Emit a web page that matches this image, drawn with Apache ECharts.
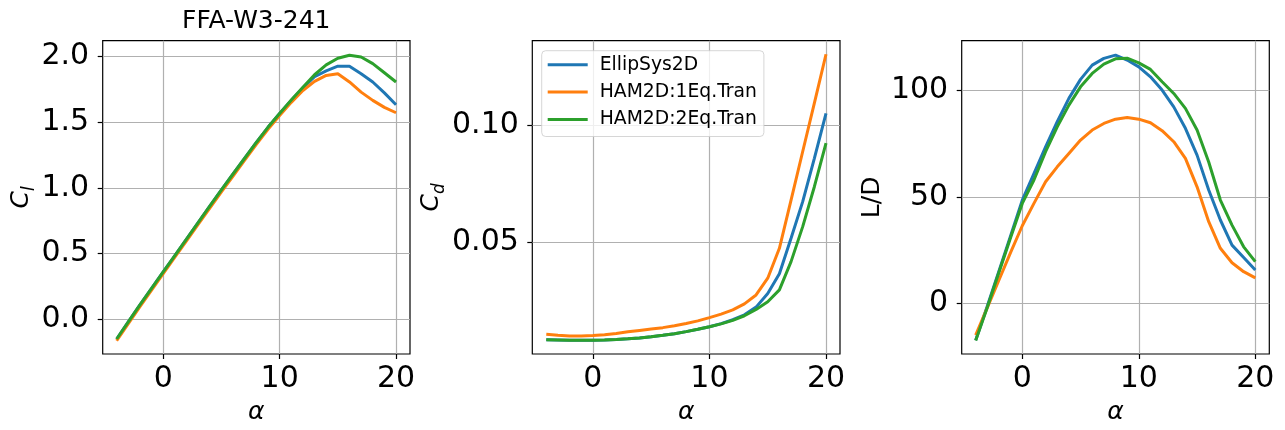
<!DOCTYPE html>
<html>
<head>
<meta charset="utf-8">
<script src="https://cdn.jsdelivr.net/npm/echarts@6/dist/echarts.min.js"></script>
<style>html,body{margin:0;padding:0;background:#fff}#c{width:1285px;height:430px}</style>
</head>
<body>
<div id="c"></div>
<script>
// ---- data ----
const alpha = [-4,-3,-2,-1,0,1,2,3,4,5,6,7,8,9,10,11,12,13,14,15,16,17,18,19,20];
const seriesNames = ['EllipSys2D','HAM2D:1Eq.Tran','HAM2D:2Eq.Tran'];
const clEllip = [-0.15,-0.02,0.11,0.235,0.36,0.485,0.61,0.735,0.86,0.985,1.105,1.225,1.345,1.46,1.565,1.665,1.76,1.845,1.89,1.925,1.925,1.868,1.805,1.722,1.632];
const clHam1  = [-0.163,-0.033,0.097,0.222,0.347,0.472,0.597,0.722,0.846,0.97,1.09,1.21,1.33,1.445,1.55,1.65,1.74,1.81,1.855,1.868,1.805,1.728,1.665,1.612,1.571];
const clHam2  = [-0.15,-0.02,0.11,0.235,0.36,0.485,0.61,0.735,0.86,0.985,1.105,1.225,1.345,1.46,1.565,1.668,1.765,1.86,1.935,1.985,2.008,1.995,1.945,1.875,1.805];
const cdEllip = [0.0082,0.0081,0.0080,0.0080,0.0080,0.0081,0.0083,0.0086,0.0090,0.0095,0.0101,0.0108,0.0117,0.0127,0.0138,0.0151,0.0168,0.0189,0.0222,0.0280,0.0365,0.0517,0.0674,0.0860,0.1053];
const cdHam1  = [0.0106,0.0101,0.0098,0.0098,0.0100,0.0104,0.0109,0.0116,0.0122,0.0128,0.0134,0.0142,0.0152,0.0163,0.0177,0.0192,0.0210,0.0236,0.0274,0.0346,0.0474,0.0681,0.0889,0.1096,0.1306];
const cdHam2  = [0.0082,0.0081,0.0080,0.0080,0.0080,0.0081,0.0083,0.0086,0.0090,0.0095,0.0101,0.0108,0.0117,0.0127,0.0138,0.0150,0.0165,0.0185,0.0212,0.0245,0.0296,0.0417,0.0567,0.0738,0.0925];
const ldEllip = [-17.3,-1.2,15.2,31.8,48.5,61,73.6,85.4,96.4,105.3,112,115.2,116.7,114.4,111.2,106.5,100.3,92.4,82.3,69.7,53.3,39.2,27.4,21.6,15.7];
const ldHam1  = [-14.9,-2.0,11,24,36.5,47,57.2,64.2,70.5,76.8,81.5,84.6,86.6,87.4,86.6,84.9,81.2,76,68.2,54.8,38.4,25.9,19.1,14.9,12];
const ldHam2  = [-17.5,-1.8,14.6,31,47,58,71.3,83,93.2,101.8,108.1,112.5,115,115.3,113.1,110,104.2,98.7,91.7,81.5,66.5,48.6,36.8,26.6,19.6];
const xTicks  = [0,10,20];
const clTicks = [0,0.5,1.0,1.5,2.0];
const cdTicks = [0.05,0.10];
const ldTicks = [0,50,100];
const titleText = 'FFA-W3-241';

// ---- chart ----
const F = 'DejaVu Sans';
const colors = ['#1f77b4','#ff7f0e','#2ca02c'];
const grids = [
  {left:102.7, top:40.7, width:307.3, height:313.3},
  {left:532.3, top:40.7, width:307.7, height:313.3},
  {left:961.7, top:40.7, width:307.6, height:313.3}
].map(g => Object.assign({show:true, borderColor:'#000', borderWidth:1.2, backgroundColor:'transparent', containLabel:false, outerBoundsMode:'none'}, g));

function xAx(gi){
  return {type:'value', gridIndex:gi, min:-5.2, max:21.2, splitNumber:3,
    axisLine:{show:false, onZero:false},
    axisTick:{show:true, customValues:xTicks, length:5, lineStyle:{color:'#000', width:1.2}},
    axisLabel:{customValues:xTicks, fontSize:30, color:'#000', fontFamily:F, margin:10},
    splitLine:{show:true, showMinLine:true, showMaxLine:true, lineStyle:{color:'#b0b0b0', width:1.2}},
    name:'α', nameLocation:'middle', nameGap:46,
    nameTextStyle:{fontSize:25, fontStyle:'italic', fontFamily:F, color:'#000', lineHeight:25}};
}
const subRich = {
  c:{fontSize:25, fontStyle:'italic', fontFamily:F, color:'#000', lineHeight:25, verticalAlign:'middle'},
  s:{fontSize:17, fontStyle:'italic', fontFamily:F, color:'#000', lineHeight:17, padding:[16,0,0,0], verticalAlign:'middle'}
};
function yAx(gi, min, max, split, ticks, dec, name, gap){
  return {type:'value', gridIndex:gi, min:min, max:max, splitNumber:split,
    axisLine:{show:false, onZero:false},
    axisTick:{show:true, customValues:ticks, length:5, lineStyle:{color:'#000', width:1.2}},
    axisLabel:{customValues:ticks, fontSize:30, color:'#000', fontFamily:F, margin:13.5,
      formatter: v => dec === 0 ? String(Math.round(v)) : Number(v).toFixed(dec)},
    splitLine:{show:true, showMinLine:true, showMaxLine:true, lineStyle:{color:'#b0b0b0', width:1.2}},
    name:name, nameLocation:'middle', nameGap:gap,
    nameTextStyle:{fontSize:25, fontFamily:F, color:'#000', lineHeight:25, rich:subRich}};
}
function mk(name, ci, gi, arr){
  return {type:'line', name:name, xAxisIndex:gi, yAxisIndex:gi,
    data: alpha.map((a,i)=>[a, arr[i]]),
    symbol:'none', showSymbol:false, clip:true, animation:false,
    lineStyle:{color:colors[ci], width:3}, itemStyle:{color:colors[ci]}};
}

const option = {
  animation:false,
  backgroundColor:'#fff',
  textStyle:{fontFamily:F},
  title:{text:titleText, left:256.3, top:9, padding:0, textAlign:'center',
    textStyle:{fontSize:25, fontWeight:'normal', fontFamily:F, color:'#000', lineHeight:25}},
  legend:{orient:'vertical', left:541.7, top:50.7, data:seriesNames,
    icon:'rect', itemWidth:40, itemHeight:3, itemGap:7.4,
    padding:[4,7,7,6], backgroundColor:'rgba(255,255,255,0.8)',
    borderColor:'rgba(204,204,204,0.8)', borderWidth:1, borderRadius:4,
    textStyle:{fontSize:18.75, fontFamily:F, color:'#000', lineHeight:20, padding:[0,0,0,7]}},
  grid:grids,
  xAxis:[xAx(0), xAx(1), xAx(2)],
  yAxis:[
    yAx(0, -0.264, 2.119, 5, clTicks, 1, '{c|C}{s|l}', 68),
    yAx(1, 0.0021, 0.1364, 3, cdTicks, 2, '{c|C}{s|d}', 85),
    yAx(2, -23.8, 123.5, 3, ldTicks, 0, 'L/D', 77)
  ],
  series:[
    mk(seriesNames[0],0,0,clEllip), mk(seriesNames[1],1,0,clHam1), mk(seriesNames[2],2,0,clHam2),
    mk(seriesNames[0],0,1,cdEllip), mk(seriesNames[1],1,1,cdHam1), mk(seriesNames[2],2,1,cdHam2),
    mk(seriesNames[0],0,2,ldEllip), mk(seriesNames[1],1,2,ldHam1), mk(seriesNames[2],2,2,ldHam2)
  ]
};
const chart = echarts.init(document.getElementById('c'), null, {renderer:'canvas'});
chart.setOption(option);
</script>
</body>
</html>
